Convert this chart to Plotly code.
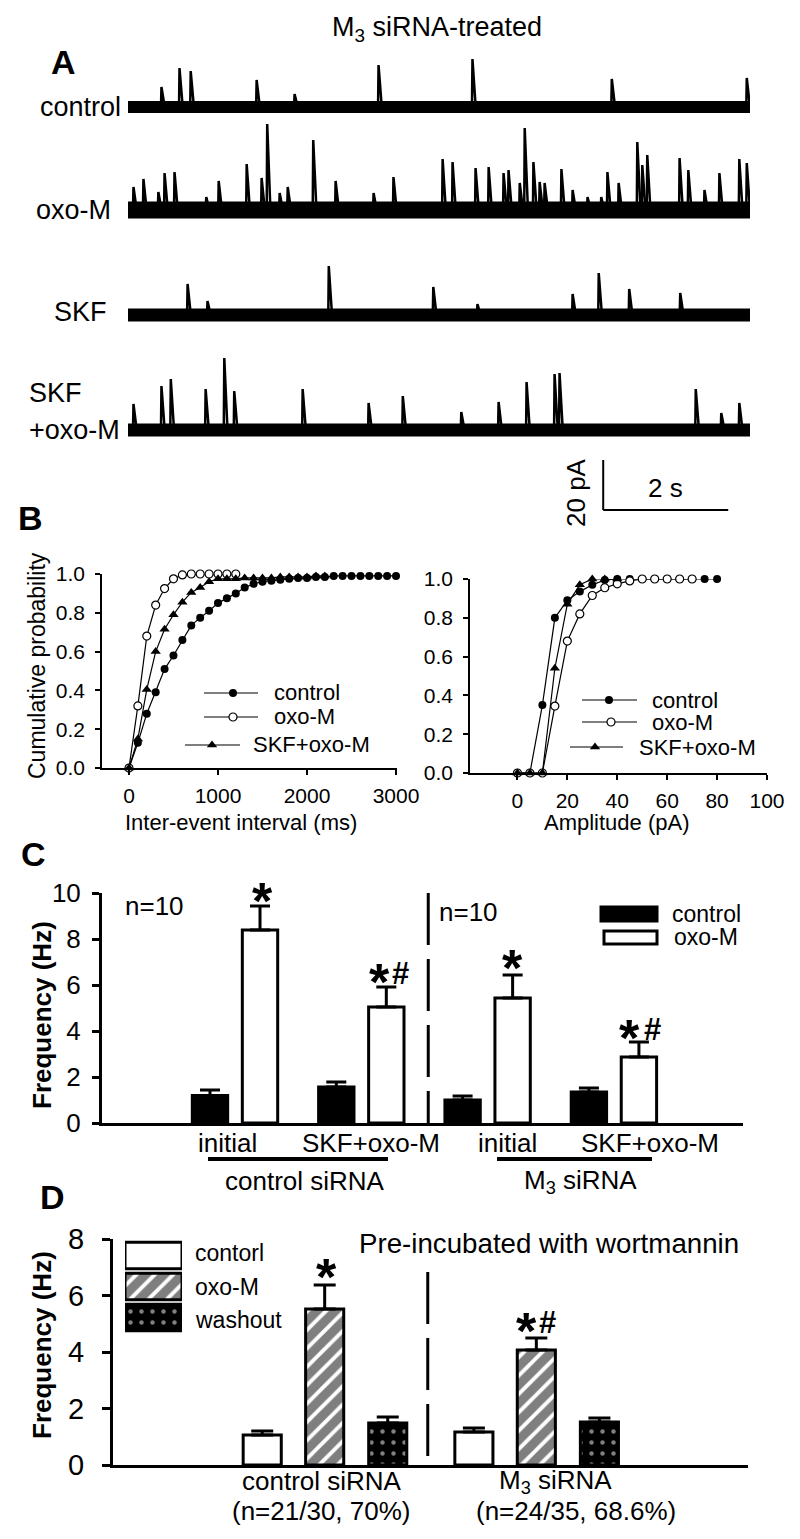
import plotly.graph_objects as go

W, H = 800, 1539
FONT = "Liberation Sans, Arial, sans-serif"

# ---------------- panel A: sEPSC events (time s, amplitude pA)
ctrl_t = [0.53, 0.82, 1.00, 2.06, 2.67, 4.02, 5.53, 7.77, 9.94]
ctrl_a = [8.0, 15.6, 14.4, 10.8, 5.2, 16.8, 19.2, 11.2, 11.6]

oxo_t = [0.08, 0.24, 0.48, 0.58, 0.74, 1.25, 1.45, 1.90, 2.14, 2.23, 2.43, 2.56, 2.97, 3.33,
         3.94, 4.26, 5.05, 5.21, 5.58, 5.79, 6.03, 6.11, 6.29, 6.37, 6.51, 6.61, 6.69, 6.96,
         7.14, 7.38, 7.60, 7.70, 7.88, 8.18, 8.26, 8.34, 8.86, 9.00, 9.26, 9.50, 9.82, 9.94]
oxo_a = [9.2, 12.4, 7.2, 14.8, 15.2, 5.2, 11.6, 18.4, 12.8, 34.4, 6.8, 9.2, 28.0, 11.6,
         6.8, 13.2, 20.4, 19.2, 16.8, 17.2, 14.8, 16.0, 10.8, 32.8, 19.2, 11.2, 10.8, 16.4,
         8.0, 5.2, 5.2, 15.2, 10.8, 27.2, 18.0, 22.0, 20.8, 16.0, 8.0, 14.8, 20.4, 18.8]

skf_t = [0.95, 1.27, 3.22, 4.90, 5.61, 7.14, 7.56, 8.05, 8.87]
skf_a = [12.4, 5.6, 19.6, 11.2, 4.4, 8.4, 16.8, 10.4, 8.8]

skfoxo_t = [0.08, 0.53, 0.68, 1.24, 1.54, 1.70, 2.80, 3.86, 4.41, 5.35, 5.95, 6.40, 6.85,
            6.93, 9.12, 9.53, 9.82]
skfoxo_a = [10.4, 17.6, 20.4, 16.4, 28.8, 15.6, 16.4, 10.8, 13.6, 7.2, 11.2, 19.2, 22.4,
            22.8, 16.4, 6.8, 10.8]

trace_labels = ["control", "oxo-M", "SKF", "SKF+oxo-M"]

# ---------------- panel B: cumulative distributions
iei_x_ctrl = [0, 100, 200, 300, 400, 500, 600, 700, 800, 900, 1000, 1100, 1200, 1300, 1400, 1500,
              1600, 1700, 1800, 1900, 2000, 2100, 2200, 2300, 2400, 2500, 2600, 2700, 2800, 2900, 3000]
iei_ctrl = [0, 0.13, 0.28, 0.39, 0.51, 0.58, 0.66, 0.735, 0.775, 0.81, 0.85, 0.875, 0.90, 0.93, 0.95,
            0.96, 0.965, 0.97, 0.975, 0.98, 0.98, 0.985, 0.985, 0.99, 0.99, 0.99, 0.99, 0.99, 0.99, 0.99, 0.99]
iei_x_oxo = [0, 100, 200, 300, 400, 500, 600, 700, 800, 900, 1000, 1100, 1200]
iei_oxo = [0, 0.32, 0.68, 0.84, 0.925, 0.975, 0.995, 1.0, 1.0, 1.0, 1.0, 1.0, 1.0]
iei_x_skf = [0, 100, 200, 300, 400, 500, 600, 700, 800, 900, 1000, 1100, 1200, 1300, 1400, 1500,
             1600, 1700, 1800, 1900, 2000, 2100, 2200]
iei_skf = [0, 0.15, 0.405, 0.60, 0.715, 0.79, 0.855, 0.905, 0.93, 0.96, 0.975, 0.975, 0.975, 0.98,
           0.98, 0.98, 0.98, 0.985, 0.985, 0.985, 0.985, 0.99, 0.99]

amp_x_ctrl = [0, 5, 10, 15, 20, 25, 30, 35, 40, 45, 50, 55, 60, 65, 70, 75, 80]
amp_ctrl = [0, 0, 0.35, 0.80, 0.89, 0.935, 0.97, 0.995, 1, 1, 1, 1, 1, 1, 1, 1, 1]
amp_x_oxo = [0, 5, 10, 15, 20, 25, 30, 35, 40, 45, 50, 55, 60, 65, 70]
amp_oxo = [0, 0, 0, 0.345, 0.68, 0.82, 0.915, 0.955, 0.975, 0.99, 1, 1, 1, 1, 1]
amp_x_skf = [0, 5, 10, 15, 20, 25, 30, 35, 40]
amp_skf = [0, 0, 0, 0.54, 0.87, 0.97, 1, 1, 1]

# ---------------- panel C: frequency, control siRNA / M3 siRNA
c_labels = ["initial", "SKF+oxo-M", "initial", "SKF+oxo-M"]
c_ctrl = [1.2, 1.57, 1.0, 1.35]
c_ctrl_se = [0.23, 0.21, 0.17, 0.17]
c_oxo = [8.39, 5.04, 5.43, 2.87]
c_oxo_se = [1.04, 0.87, 1.0, 0.65]

# ---------------- panel D: wortmannin pre-incubation
d_labels = ["control siRNA", "M<sub>3</sub> siRNA"]
d_ctrl = [1.06, 1.17]
d_ctrl_se = [0.14, 0.14]
d_oxo = [5.52, 4.07]
d_oxo_se = [0.85, 0.43]
d_wash = [1.49, 1.52]
d_wash_se = [0.21, 0.14]


def fx(x):
    return x / W


def fy(y):
    return 1 - y / H


def ann(text, x, y, size, bold=False, xanchor="center", yanchor="middle", angle=0):
    if bold:
        text = "<b>" + text + "</b>"
    return dict(text=text, x=fx(x), y=fy(y), xref="paper", yref="paper", showarrow=False,
                font=dict(family=FONT, size=size, color="black"),
                xanchor=xanchor, yanchor=yanchor, textangle=angle)


def spikes(times, amps, base, rise=0.008, decay=0.06):
    xs, ys = [], []
    for t, a in zip(times, amps):
        xs += [t, t + rise, t + decay, None]
        ys += [base, base + a, base, None]
    return xs, ys


fig = go.Figure()

# ---- A: traces stacked with pA offsets
bases = [129.2, 88.0, 46.0, 0.0]
widths = [12, 17, 13, 13]
for (t, a), base, lw in zip([(ctrl_t, ctrl_a), (oxo_t, oxo_a), (skf_t, skf_a), (skfoxo_t, skfoxo_a)],
                            bases, widths):
    fig.add_trace(go.Scatter(x=[0, 10], y=[base, base], mode="lines",
                             line=dict(color="black", width=lw), xaxis="x", yaxis="y"))
    xs, ys = spikes(t, a, base)
    fig.add_trace(go.Scatter(x=xs, y=ys, mode="lines", line=dict(color="black", width=2.5),
                             xaxis="x", yaxis="y"))

# ---- B: cumulative plots
styles = {
    "control": dict(symbol="circle", size=8, color="black"),
    "oxo-M": dict(symbol="circle", size=8, color="white", line=dict(color="black", width=1.2)),
    "SKF+oxo-M": dict(symbol="triangle-up", size=9, color="black"),
}
for xv, yv, name in [(iei_x_ctrl, iei_ctrl, "control"), (iei_x_oxo, iei_oxo, "oxo-M"),
                     (iei_x_skf, iei_skf, "SKF+oxo-M")]:
    fig.add_trace(go.Scatter(x=xv, y=yv, mode="lines+markers", marker=styles[name],
                             line=dict(color="black", width=1.2), cliponaxis=False,
                             xaxis="x2", yaxis="y2"))
for xv, yv, name in [(amp_x_ctrl, amp_ctrl, "control"), (amp_x_oxo, amp_oxo, "oxo-M"),
                     (amp_x_skf, amp_skf, "SKF+oxo-M")]:
    fig.add_trace(go.Scatter(x=xv, y=yv, mode="lines+markers", marker=styles[name],
                             line=dict(color="black", width=1.2), cliponaxis=False,
                             xaxis="x3", yaxis="y3"))

# legends of B drawn on a pixel overlay axis
leg_rows = [("control", 693, 204, 258, 233, 272), ("oxo-M", 717, 204, 258, 233, 272),
            ("SKF+oxo-M", 745, 185, 240, 212, 251),
            ("control", 700, 582, 637, 609, 650), ("oxo-M", 722, 582, 637, 611, 650),
            ("SKF+oxo-M", 747, 570, 623, 595, 637)]
annotations = []
for name, y, x0, x1, xm, xt in leg_rows:
    fig.add_trace(go.Scatter(x=[x0, x1], y=[y, y], mode="lines", line=dict(color="black", width=1.2),
                             xaxis="x7", yaxis="y7"))
    fig.add_trace(go.Scatter(x=[xm], y=[y], mode="markers", marker=styles[name],
                             xaxis="x7", yaxis="y7"))
    annotations.append(ann(name, xt, y, 22, xanchor="left"))

# ---- C: bars
c_pos = [1, 2, 3, 4]
fig.add_trace(go.Bar(x=c_pos, y=c_ctrl, width=0.28, offset=-0.338,
                     marker=dict(color="black", line=dict(color="black", width=3)),
                     error_y=dict(type="data", array=c_ctrl_se, arrayminus=[0] * 4, symmetric=False,
                                  color="black", thickness=3, width=10),
                     xaxis="x4", yaxis="y4"))
fig.add_trace(go.Bar(x=c_pos, y=c_oxo, width=0.28, offset=0.058,
                     marker=dict(color="white", line=dict(color="black", width=3)),
                     error_y=dict(type="data", array=c_oxo_se, arrayminus=[0] * 4, symmetric=False,
                                  color="black", thickness=3, width=10),
                     xaxis="x4", yaxis="y4"))

# ---- D: bars with patterns
d_pos = [1, 2]
hatch = dict(shape="/", bgcolor="white", fgcolor="black", size=13, solidity=0.7)
dots = dict(shape=".", bgcolor="black", fgcolor="white", size=11, solidity=0.13)
for vals, se, off, pat in [(d_ctrl, d_ctrl_se, -0.385, None), (d_oxo, d_oxo_se, -0.09, hatch),
                           (d_wash, d_wash_se, 0.208, dots)]:
    mk = dict(color="white", line=dict(color="black", width=3))
    if pat:
        mk["pattern"] = pat
    fig.add_trace(go.Bar(x=d_pos, y=vals, width=0.18, offset=off, marker=mk,
                         error_y=dict(type="data", array=se, arrayminus=[0] * 2, symmetric=False,
                                      color="black", thickness=3, width=11),
                         xaxis="x5", yaxis="y5"))

# D legend swatches
for i, pat in enumerate([None, hatch, dots]):
    mk = dict(color="white", line=dict(color="black", width=3))
    if pat:
        mk["pattern"] = pat
    fig.add_trace(go.Bar(y=[i], x=[1], orientation="h", width=0.85, marker=mk, cliponaxis=False,
                         xaxis="x6", yaxis="y6"))

# ---------------- layout
tickf = dict(family=FONT, size=21, color="black")
axis_b = dict(showline=True, linecolor="black", linewidth=1.5, ticks="outside", ticklen=5,
              tickwidth=1.5, tickcolor="black", showgrid=False, zeroline=False, tickfont=tickf,
              automargin=False)
hidden = dict(visible=False, showgrid=False, zeroline=False, automargin=False)
bar_axis = dict(showgrid=False, zeroline=False, automargin=False, linecolor="black")

layout = dict(
    width=W, height=H, autosize=False,
    margin=dict(l=0, r=0, t=0, b=0, pad=0, autoexpand=False),
    paper_bgcolor="white", plot_bgcolor="rgba(0,0,0,0)",
    showlegend=False, barmode="overlay",
    font=dict(family=FONT, color="black"),
    xaxis=dict(hidden, domain=[fx(128), fx(750)], range=[0, 10], anchor="y"),
    yaxis=dict(hidden, domain=[fy(520), fy(40)], range=[-36, 156], anchor="x"),
    xaxis2=dict(axis_b, domain=[fx(102), fx(397)], range=[-303, 3011],
                tickvals=[0, 1000, 2000, 3000], anchor="y2", ticklabelstandoff=3),
    yaxis2=dict(axis_b, domain=[fy(768), fy(574)], range=[0, 1],
                tickvals=[0, 0.2, 0.4, 0.6, 0.8, 1.0], tickformat=".1f", anchor="x2",
                ticklabelstandoff=6),
    xaxis3=dict(axis_b, domain=[fx(470), fx(767)], range=[-19, 100],
                tickvals=[0, 20, 40, 60, 80, 100], anchor="y3", ticklabelstandoff=3),
    yaxis3=dict(axis_b, domain=[fy(773), fy(579)], range=[0, 1],
                tickvals=[0, 0.2, 0.4, 0.6, 0.8, 1.0], tickformat=".1f", anchor="x3",
                ticklabelstandoff=6),
    xaxis4=dict(bar_axis, domain=[fx(102), fx(743)], range=[-0.053, 5.022], showline=True,
                linewidth=3, ticks="", showticklabels=False, anchor="y4"),
    yaxis4=dict(bar_axis, domain=[fy(1123), fy(893)], range=[0, 10], dtick=2, showline=True,
                linewidth=3, ticks="outside", ticklen=7, tickwidth=3, tickcolor="black",
                anchor="x4", ticklabelstandoff=6,
                tickfont=dict(family=FONT, size=26, color="black")),
    xaxis5=dict(bar_axis, domain=[fx(113), fx(748)], range=[0, 3], showline=True, linewidth=3,
                ticks="", showticklabels=False, anchor="y5"),
    yaxis5=dict(bar_axis, domain=[fy(1465), fy(1239)], range=[0, 8], dtick=2, showline=True,
                linewidth=3, ticks="outside", ticklen=8, tickwidth=3, tickcolor="black",
                anchor="x5", ticklabelstandoff=12,
                tickfont=dict(family=FONT, size=29, color="black")),
    xaxis6=dict(hidden, domain=[fx(125), fx(182)], range=[0, 1], anchor="y6"),
    yaxis6=dict(hidden, domain=[fy(1333), fy(1240)], range=[2.5, -0.5], anchor="x6"),
    xaxis7=dict(hidden, domain=[0, 1], range=[0, W], anchor="y7"),
    yaxis7=dict(hidden, domain=[0, 1], range=[H, 0], anchor="x7"),
)

shapes = [
    # scale bar of A (20 pA, 2 s)
    dict(type="line", xref="x", yref="y", x0=7.64, x1=7.64, y0=-12, y1=-32,
         line=dict(color="black", width=2)),
    dict(type="line", xref="x", yref="y", x0=7.64, x1=9.65, y0=-32, y1=-32,
         line=dict(color="black", width=2)),
    # dashed separators
    dict(type="line", xref="x4", yref="y4", x0=2.53, x1=2.53, y0=10, y1=0,
         line=dict(color="black", width=3, dash="52px,14px")),
    dict(type="line", xref="x5", yref="y5", x0=1.487, x1=1.487, y0=6.83, y1=0,
         line=dict(color="black", width=3, dash="52px,14px")),
    # C group brackets
    dict(type="line", xref="paper", yref="paper", x0=fx(208), x1=fx(388), y0=fy(1159), y1=fy(1159),
         line=dict(color="black", width=4)),
    dict(type="line", xref="paper", yref="paper", x0=fx(497), x1=fx(652), y0=fy(1159), y1=fy(1159),
         line=dict(color="black", width=4)),
    # C legend swatches
    dict(type="rect", xref="paper", yref="paper", x0=fx(601), x1=fx(657), y0=fy(921), y1=fy(907),
         fillcolor="black", line=dict(color="black", width=3)),
    dict(type="rect", xref="paper", yref="paper", x0=fx(604), x1=fx(657), y0=fy(944), y1=fy(931),
         fillcolor="white", line=dict(color="black", width=3)),
]

annotations += [
    ann("M<sub>3</sub> siRNA-treated", 437, 29, 27),
    ann("A", 63, 62, 34, bold=True),
    ann("control", 123, 107, 27, xanchor="right"),
    ann("oxo-M", 113, 210, 27, xanchor="right"),
    ann("SKF", 109, 312, 27, xanchor="right"),
    ann("SKF", 27, 393, 27, xanchor="left"),
    ann("+oxo-M", 27, 430, 27, xanchor="left"),
    ann("20 pA", 576, 493, 26, angle=-90),
    ann("2 s", 665, 488, 26),
    ann("B", 30, 518, 34, bold=True),
    ann("Cumulative probability", 37, 666, 23, angle=-90),
    ann("Inter-event interval (ms)", 241, 822, 22),
    ann("Amplitude (pA)", 617, 822, 22),
    ann("C", 33, 854, 34, bold=True),
    ann("Frequency (Hz)", 42, 1015, 26, bold=True, angle=-90),
    ann("n=10", 123, 906, 26, xanchor="left"),
    ann("n=10", 437, 912, 26, xanchor="left"),
    ann("control", 670, 914, 23, xanchor="left"),
    ann("oxo-M", 672, 937, 23, xanchor="left"),
    ann("control siRNA", 305, 1181, 26),
    ann("M<sub>3</sub> siRNA", 580, 1181, 26),
    ann("D", 52, 1197, 34, bold=True),
    ann("Frequency (Hz)", 42, 1345, 26, bold=True, angle=-90),
    ann("contorl", 193, 1253, 23, xanchor="left"),
    ann("oxo-M", 193, 1287, 23, xanchor="left"),
    ann("washout", 193, 1320, 23, xanchor="left"),
    ann("Pre-incubated with wortmannin", 357, 1243, 27.7, xanchor="left"),
    ann("(n=21/30, 70%)", 321, 1511, 26),
    ann("(n=24/35, 68.6%)", 576, 1511, 26),
]
for lab, x in zip(c_labels, [227, 371, 507, 650]):
    annotations.append(ann(lab, x, 1143, 26))
for lab, x in zip(d_labels, [322, 555]):
    annotations.append(ann(lab, x, 1481, 26))

# significance marks: big asterisks and hashes
for x, y in [(262, 890), (379, 971), (512, 957), (629, 1027), (326, 1266), (526, 1320)]:
    annotations.append(ann("*", x, y + 11, 52, bold=True))
for x, y in [(400, 971), (652, 1027), (547, 1320)]:
    annotations.append(ann("#", x, y + 2, 31, bold=True))

layout["shapes"] = shapes
layout["annotations"] = annotations
fig.update_layout(**layout)

# the page body gets no margin, so the 800x1539 figure fills the window exactly
fig.write_html("out.html", config={"displayModeBar": False},
               post_script="document.body.style.margin='0';"
                           "document.documentElement.style.overflow='hidden';")
